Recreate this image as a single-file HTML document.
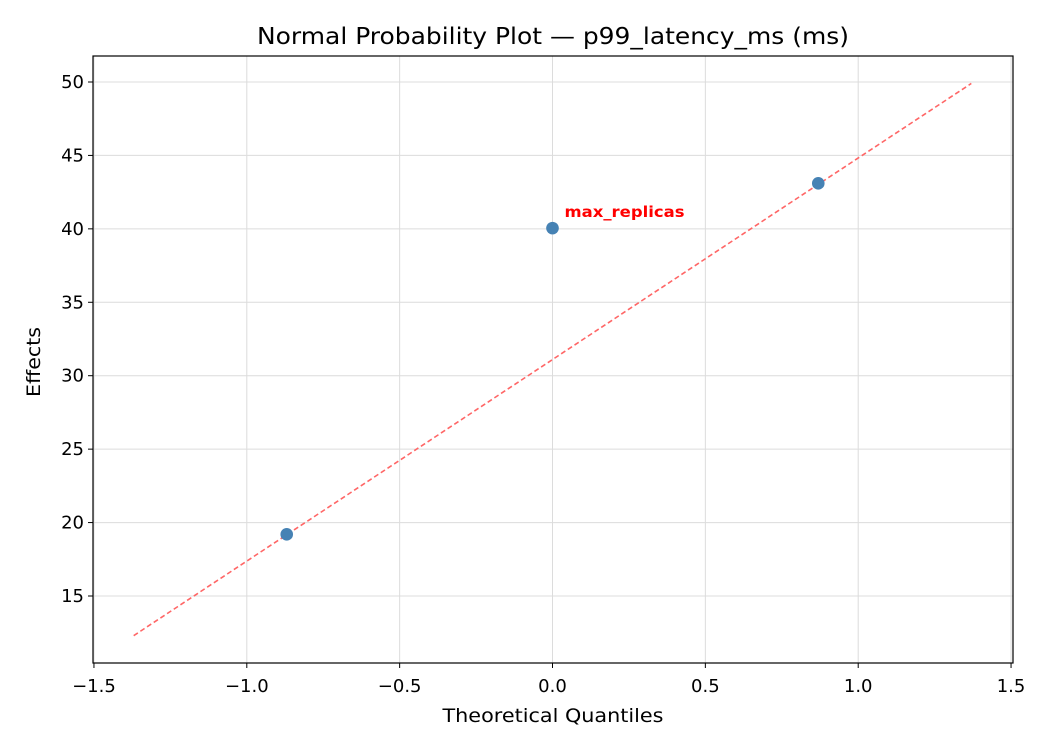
<!DOCTYPE html>
<html><head><meta charset="utf-8"><style>
body{margin:0;background:#fff;}
svg text{font-family:"DejaVu Sans","Liberation Sans",sans-serif;}
</style></head><body>
<svg id="chart" width="1050" height="750" xmlns="http://www.w3.org/2000/svg">
<rect width="1050" height="750" fill="#fff"/>
<text x="553" y="44" font-size="23" text-anchor="middle" textLength="592" lengthAdjust="spacingAndGlyphs">Normal Probability Plot — p99_latency_ms (ms)</text>
<g id="grid"></g>
<g id="marks"></g>
<rect x="93" y="56" width="920" height="607" fill="none" stroke="#000" stroke-width="1.2"/>
<g id="ticks"></g>
<text x="553" y="722" font-size="19" text-anchor="middle" textLength="221" lengthAdjust="spacingAndGlyphs">Theoretical Quantiles</text>
<text transform="translate(40,362) rotate(-90)" font-size="19" text-anchor="middle" textLength="70" lengthAdjust="spacingAndGlyphs">Effects</text>
</svg>
<script>
const xTicks=[-1.5,-1.0,-0.5,0.0,0.5,1.0,1.5];
const xTickLabels=["−1.5","−1.0","−0.5","0.0","0.5","1.0","1.5"];
const yTicks=[15,20,25,30,35,40,45,50];
const quantiles=[-0.8694,0.0,0.8694];
const effects=[19.2,40.05,43.1];
const pointLabels=["","max_replicas",""];
const lineX=[-1.37,1.37];
const lineY=[12.3,49.9];
const X=v=>552.5+v*305.7;
const Y=v=>596-(v-15)*14.686;
const NS="http://www.w3.org/2000/svg";
function mk(tag,attrs,parent){const e=document.createElementNS(NS,tag);for(const k in attrs)e.setAttribute(k,attrs[k]);parent.appendChild(e);return e;}
const grid=document.getElementById('grid'),marks=document.getElementById('marks'),ticks=document.getElementById('ticks');
xTicks.forEach((t,i)=>{
  const g=mk('line',{x1:X(t),x2:X(t),y1:56,y2:663,stroke:'#dcdcdc','stroke-width':1},grid);
  
  
  const tk=mk('line',{x1:X(t),x2:X(t),y1:663,y2:668,stroke:'#000'},ticks);
  
  
  const tx=mk('text',{x:X(t),y:692,'font-size':18,'text-anchor':'middle'},ticks);
  tx.textContent=xTickLabels[i];
  
  
});
yTicks.forEach(t=>{
  const g=mk('line',{x1:93,x2:1013,y1:Y(t),y2:Y(t),stroke:'#dcdcdc','stroke-width':1},grid);
  
  
  const tk=mk('line',{x1:88,x2:93,y1:Y(t),y2:Y(t),stroke:'#000'},ticks);
  
  
  const tx=mk('text',{x:84,y:Y(t)+6,'font-size':18,'text-anchor':'end'},ticks);
  tx.textContent=t;
  
  
});
const ln=mk('line',{x1:X(lineX[0]),y1:Y(lineY[0]),x2:X(lineX[1]),y2:Y(lineY[1]),stroke:'#ff6666','stroke-width':1.6,'stroke-dasharray':'5,3'},marks);


quantiles.forEach((q,i)=>{
  const c=mk('circle',{cx:X(q),cy:Y(effects[i]),r:6.3,fill:'#4682b4'},marks);
  
  
  if(pointLabels[i]){
    const t=mk('text',{x:X(q)+12,y:Y(effects[i])-11,'font-size':15,'font-weight':'bold',fill:'red',textLength:120,lengthAdjust:'spacingAndGlyphs'},marks);
    t.textContent=pointLabels[i];
    
    
  }
});
</script>
</body></html>
